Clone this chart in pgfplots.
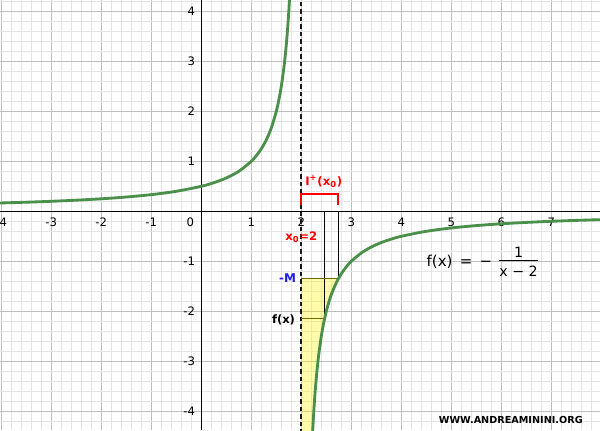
\documentclass[border=0pt]{standalone}
\usepackage{pgfplots}
\pgfplotsset{compat=1.18}
\usepackage{fontspec}
\setmainfont{DejaVu Sans}
\definecolor{curvegreen}{HTML}{4A8F4A}
\definecolor{olive2}{HTML}{6B6B00}
\definecolor{mblue}{HTML}{1E1EE6}
\begin{document}
\begin{tikzpicture}
\begin{axis}[
  x=30pt, y=30pt,
  xmin=-4.026, xmax=7.974, ymin=-4.374, ymax=4.226,
  axis lines=middle,
  axis line style={black, line width=0.7pt, -},
  xtick={-4,-3,-2,-1,1,2,3,4,5,6,7},
  xticklabels={-4,-3,-2,-1,1,2,3,4,5,6,7},
  ytick={-4,-3,-2,-1,1,2,3,4},
  yticklabels={-4,-3,-2,-1,1,2,3,4},
  minor xtick={-4.8,-4.6,...,8},
  minor ytick={-4.8,-4.6,...,4.8},
  grid=both,
  major grid style={draw=black!25, line width=0.6pt},
  minor grid style={draw=black!10, line width=0.6pt},
  major tick length=0pt, minor tick length=0pt,
  xticklabel style={font=\fontsize{7}{8}\selectfont, anchor=center, yshift=-6.6pt},
  yticklabel style={font=\fontsize{7}{8}\selectfont, anchor=east, inner sep=0pt, xshift=-3.6pt},
  clip=true,
]
% yellow region
\addplot[draw=none, fill=yellow, fill opacity=0.33] coordinates {
 (2,-1.35) (2.74,-1.35) (2.7,-1.4286) (2.6,-1.6667) (2.55,-1.8182) (2.5,-2) (2.45,-2.2222)
 (2.4,-2.5) (2.35,-2.8571) (2.32,-3.125) (2.3,-3.3333) (2.28,-3.5714) (2.26,-3.8462)
 (2.24,-4.1667) (2.22,-4.5455) (2,-4.5455)} -- cycle;
% asymptote
\addplot[black!90, line width=1.1pt, dash pattern=on 2.7pt off 1.8pt] coordinates {(2,-4.6) (2,4.4)};
% vertical helper lines
\addplot[black, line width=0.6pt] coordinates {(2.466,0) (2.466,-2.146)};
\addplot[black, line width=0.6pt] coordinates {(2.735,0) (2.735,-1.35)};
% horizontal helper lines
\addplot[olive2, line width=0.7pt] coordinates {(2,-1.35) (2.735,-1.35)};
\addplot[olive2, line width=0.7pt] coordinates {(2,-2.146) (2.466,-2.146)};
% red bracket
\addplot[red, line width=1.2pt] coordinates {(2,0.13) (2,0.34) (2.727,0.34) (2.727,0.13)};
% curve left branch
\addplot[curvegreen, line width=1.7pt, smooth] coordinates {
 (-4.1,0.1639) (-3.5,0.1818) (-3,0.2) (-2.5,0.2222) (-2,0.25) (-1.5,0.2857) (-1,0.3333)
 (-0.5,0.4) (0,0.5) (0.25,0.5714) (0.5,0.6667) (0.75,0.8) (1,1) (1.1,1.1111) (1.2,1.25)
 (1.3,1.4286) (1.4,1.6667) (1.5,2) (1.55,2.2222) (1.6,2.5) (1.65,2.8571) (1.68,3.125)
 (1.7,3.3333) (1.72,3.5714) (1.74,3.8462) (1.76,4.1667) (1.78,4.5455)};
% curve right branch
\addplot[curvegreen, line width=1.7pt, smooth] coordinates {
 (2.22,-4.5455) (2.24,-4.1667) (2.26,-3.8462) (2.28,-3.5714) (2.3,-3.3333) (2.32,-3.125)
 (2.35,-2.8571) (2.4,-2.5) (2.45,-2.2222) (2.5,-2) (2.55,-1.8182) (2.6,-1.6667) (2.7,-1.4286)
 (2.8,-1.25) (2.9,-1.1111) (3,-1) (3.2,-0.8333) (3.4,-0.7143) (3.6,-0.625) (3.8,-0.5556)
 (4,-0.5) (4.5,-0.4) (5,-0.3333) (5.5,-0.2857) (6,-0.25) (6.5,-0.2222) (7,-0.2) (7.5,-0.1818)
 (8,-0.1667)};
% labels
\node[font=\fontsize{7}{8}\selectfont, anchor=center] at (axis cs:-0.22,-0.22) {0};
\node[red, font=\bfseries\fontsize{7}{8.5}\selectfont, anchor=center] at (axis cs:2.45,0.6)
  {I\textsuperscript{+}(x\textsubscript{0})};
\node[red, font=\bfseries\fontsize{7}{8.5}\selectfont, anchor=center] at (axis cs:2.0,-0.52)
  {x\textsubscript{0}=2};
\node[mblue, font=\bfseries\fontsize{7.2}{9}\selectfont, anchor=east, inner sep=0pt] at (axis cs:1.9,-1.33) {-M};
\node[black, font=\bfseries\fontsize{6.9}{8.5}\selectfont, anchor=east, inner sep=0pt] at (axis cs:1.88,-2.18) {f(x)};
\node[font=\fontsize{9}{11}\selectfont, anchor=west, inner sep=0pt] at (axis cs:4.5,-1.04)
  {f(x) \,=\, − \,\fontsize{8.5}{10}\selectfont\begin{tabular}{@{}c@{}}1\\[-1pt]\hline\rule{0pt}{9pt}x − 2\end{tabular}};
\node[font=\bfseries\fontsize{5.8}{7}\selectfont, anchor=center] at (axis cs:6.19,-4.17) {WWW.ANDREAMININI.ORG};
\end{axis}
\pgfresetboundingbox
\path[use as bounding box] (current axis.south west) rectangle (current axis.north east);
\end{tikzpicture}
\end{document}
